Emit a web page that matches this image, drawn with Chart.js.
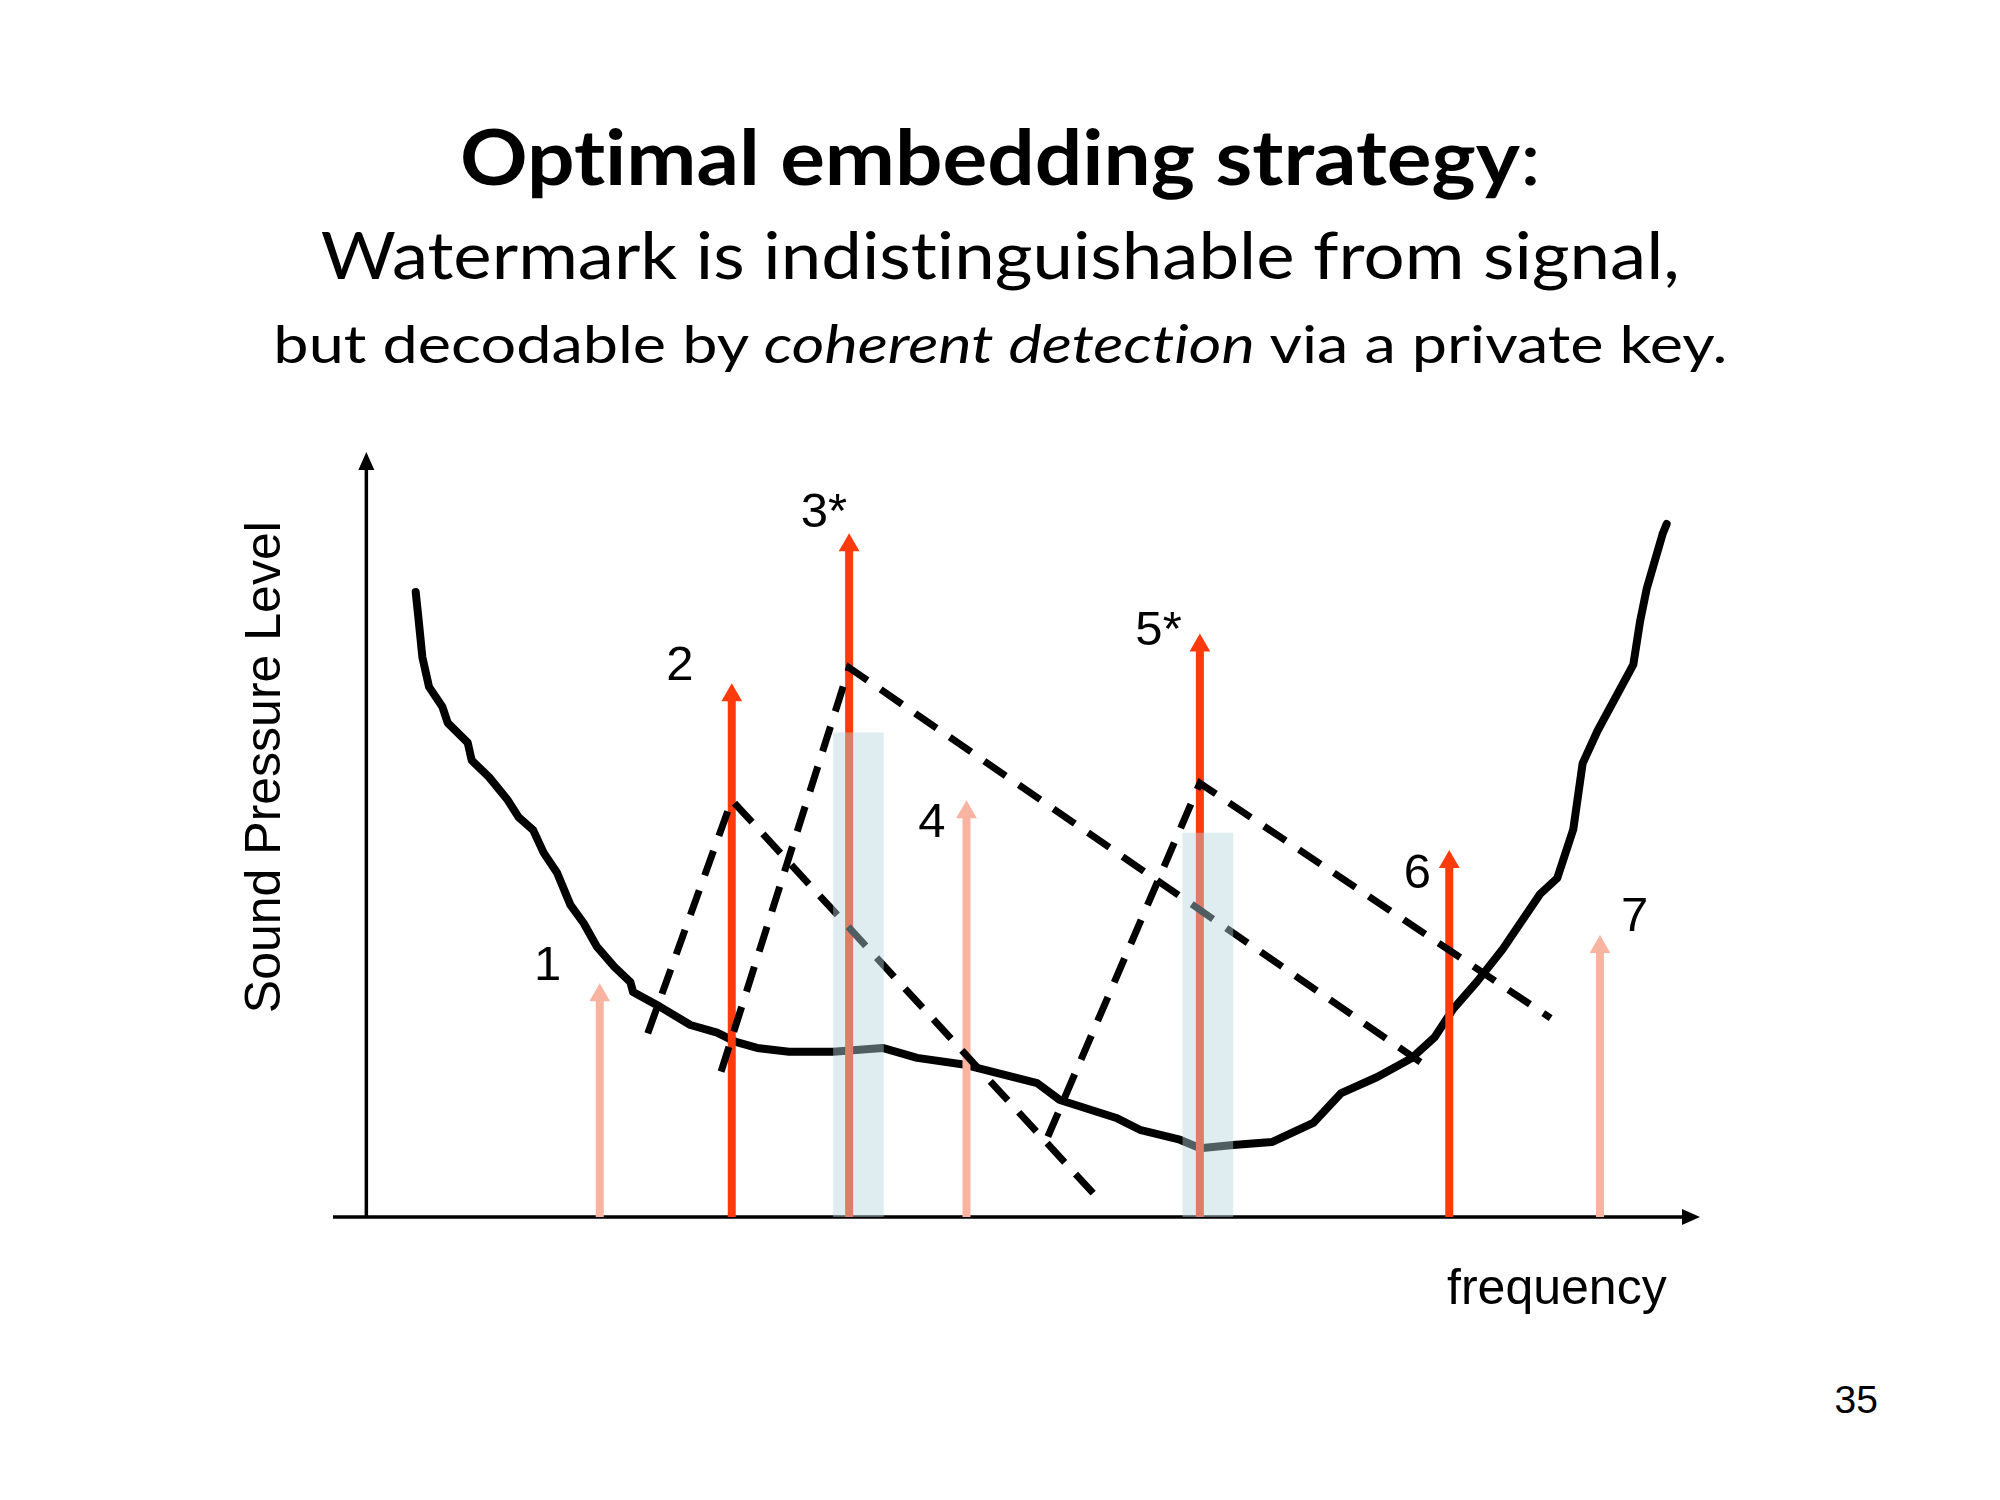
<!DOCTYPE html>
<html>
<head>
<meta charset="utf-8">
<title>Optimal embedding strategy</title>
<script src="https://cdn.jsdelivr.net/npm/chart.js@4.4.1/dist/chart.umd.min.js"></script>
<style>
  html, body { margin: 0; padding: 0; background: #fff; }
  body { width: 2000px; height: 1500px; position: relative; overflow: hidden; }
  #chart { position: absolute; left: 0; top: 0; }
  .hdr {
    position: absolute; left: 0; width: 2000px;
    text-align: center; line-height: 1; white-space: nowrap;
    font-family: Lato, "Open Sans", sans-serif; color: #000;
    font-variant-ligatures: none; font-feature-settings: "liga" 0, "clig" 0;
  }
  .hdr .fit { display: inline-block; transform-origin: 50% 50%; }
  #h1 { top: 118px; font-size: 76px; }
  #h2 { top: 222px; font-size: 65px; }
  #h3 { top: 317px; font-size: 52px; }
  #page {
    position: absolute; right: 122px; top: 1380px;
    font-family: "Liberation Sans", Arial, sans-serif; font-size: 39px; line-height: 1;
  }
</style>
</head>
<body>

<div class="hdr" id="h1"><span class="fit" data-w="1081"><b>Optimal embedding strategy</b>:</span></div>
<div class="hdr" id="h2"><span class="fit" data-w="1359">Watermark is indistinguishable from signal,</span></div>
<div class="hdr" id="h3"><span class="fit" data-w="1454">but decodable by <i>coherent detection</i> via a private key.</span></div>
<div id="page">35</div>

<canvas id="chart" width="2000" height="1500"></canvas>

<script>
/* ======================
   DATA
====================== */
// masking threshold curve (frequency 0..100, level 0..100)
const curveFreq = [3.7, 3.9, 4.2, 4.7, 5.7, 6.1, 7.6, 7.9, 9.2, 10.6, 11.4, 12.5, 13.3, 14.3, 15.3,
  16.3, 17.3, 18.6, 19.8, 20.0, 22.0, 24.3, 26.3, 27.7, 29.3, 31.7, 35.0, 38.7, 41.3, 44.9,
  50.3, 52.0, 56.3, 58.0, 61.0, 62.5, 65.0, 67.9, 71.0, 73.1, 75.8, 78.4, 80.1, 81.5, 83.3,
  85.2, 88.0, 89.3, 90.5, 91.2, 92.3, 95.0, 95.5, 96.0, 97.2, 97.5];
const curveLevel = [81.7, 78.4, 73.2, 69.3, 66.7, 64.6, 62.0, 59.7, 57.5, 54.5, 52.3, 50.6, 47.6, 45.0, 40.8,
  38.4, 35.3, 32.7, 30.7, 29.4, 27.5, 25.1, 24.1, 22.9, 22.1, 21.6, 21.6, 22.1, 20.8, 19.9,
  17.5, 15.3, 12.9, 11.4, 10.1, 9.0, 9.4, 9.8, 12.3, 16.2, 18.3, 20.8, 23.5, 27.2, 30.8,
  35.0, 42.2, 44.3, 50.7, 59.3, 63.5, 72.2, 77.8, 82.1, 89.3, 90.6];

// spectral components (arrows)
const arrowFreq  = [17.5, 27.4, 36.2, 45.0, 62.5, 81.2, 92.5];
const arrowLevel = [29.0, 68.2, 87.8, 52.9, 74.7, 46.4, 35.3];
const arrowStrong = [false, true, true, false, true, true, false];

// masking slopes (dashed): left foot, peak, right foot
const slopeFreq = [
  [21.1, 27.4, 54.5],
  [26.6, 36.2, 79.9],
  [51.1, 62.5, 88.8]
];
const slopeLevel = [
  [24.0, 54.5, 3.1],
  [19.0, 71.8, 19.2],
  [10.5, 56.7, 26.0]
];

// watermark bands
const bandFreq  = [36.9, 63.1];
const bandLevel = [63.3, 50.2];

// labels
const labelText  = ["1", "2", "3*", "4", "5*", "6", "7"];
const labelFreq  = [13.6, 23.5, 34.3, 42.4, 59.4, 78.8, 95.1];
const labelLevel = [32.8, 72.0, 91.9, 51.5, 76.5, 44.8, 39.2];

const yTitle = "Sound Pressure Level";
const xTitle = "frequency";

/* ======================
   COLOURS
====================== */
const RED = "#ff3a0d";
const LIGHT = "#f9b4a1";
const BAND = "rgba(182, 214, 220, 0.44)";
const LABEL_FONT = '49px "Liberation Sans", Arial, sans-serif';

/* ======================
   HEADER FIT
====================== */
document.querySelectorAll(".fit").forEach(el => {
  const w = el.getBoundingClientRect().width;
  el.style.transform = `scaleX(${(+el.dataset.w) / w})`;
});

/* ======================
   DATASETS
====================== */
const datasets = [];

datasets.push({
  type: "bar",
  data: bandFreq.map((f, i) => ({ x: f, y: bandLevel[i] })),
  backgroundColor: BAND,
  borderWidth: 0,
  barThickness: 50,
  order: 0
});

slopeFreq.forEach((fs, k) => {
  datasets.push({
    data: fs.map((f, i) => ({ x: f, y: slopeLevel[k][i] })),
    borderColor: "#000",
    borderWidth: 7,
    borderDash: [26, 16],
    borderCapStyle: "butt",
    pointRadius: 0,
    tension: 0,
    order: 1
  });
});

arrowFreq.forEach((f, i) => {
  const col = arrowStrong[i] ? RED : LIGHT;
  datasets.push({
    data: [{ x: f, y: 0 }, { x: f, y: arrowLevel[i] }],
    borderColor: col,
    borderWidth: 8,
    borderCapStyle: "butt",
    pointStyle: "triangle",
    pointRadius: [0, 12],
    pointBackgroundColor: col,
    pointBorderWidth: 0,
    order: 2
  });
});

datasets.push({
  data: curveFreq.map((f, i) => ({ x: f, y: curveLevel[i] })),
  borderColor: "#000",
  borderWidth: 8,
  borderJoinStyle: "round",
  borderCapStyle: "round",
  pointRadius: 0,
  tension: 0,
  order: 3
});

/* ======================
   PLUGINS
====================== */
const axesPlugin = {
  id: "arrowAxes",
  beforeDatasetsDraw(chart) {
    const { ctx, scales: { x, y } } = chart;
    const x0 = x.getPixelForValue(0);
    const y0 = y.getPixelForValue(0);
    const xL = x.getPixelForValue(x.min);
    const xR = x.getPixelForValue(x.max);
    const yT = y.getPixelForValue(y.max);

    ctx.save();
    ctx.strokeStyle = "#000";
    ctx.fillStyle = "#000";
    ctx.lineWidth = 3.5;

    ctx.beginPath();
    ctx.moveTo(xL, y0);
    ctx.lineTo(xR - 14, y0);
    ctx.moveTo(x0, y0);
    ctx.lineTo(x0, yT + 14);
    ctx.stroke();

    // arrow heads
    ctx.beginPath();
    ctx.moveTo(xR, y0);
    ctx.lineTo(xR - 18, y0 - 8);
    ctx.lineTo(xR - 18, y0 + 8);
    ctx.closePath();
    ctx.moveTo(x0, yT);
    ctx.lineTo(x0 - 8, yT + 18);
    ctx.lineTo(x0 + 8, yT + 18);
    ctx.closePath();
    ctx.fill();
    ctx.restore();
  }
};

const labelPlugin = {
  id: "labels",
  afterDatasetsDraw(chart) {
    const { ctx, chartArea, scales: { x, y } } = chart;
    ctx.save();
    ctx.fillStyle = "#000";
    ctx.font = LABEL_FONT;
    ctx.textAlign = "center";
    ctx.textBaseline = "middle";
    labelText.forEach((t, i) => {
      ctx.fillText(t, x.getPixelForValue(labelFreq[i]), y.getPixelForValue(labelLevel[i]));
    });

    ctx.font = '50px "Liberation Sans", Arial, sans-serif';
    ctx.textBaseline = "alphabetic";
    ctx.textAlign = "right";
    ctx.fillText(xTitle, x.getPixelForValue(97.5), chartArea.bottom + 87);

    ctx.translate(x.getPixelForValue(0) - 86, y.getPixelForValue(58.8));
    ctx.rotate(-Math.PI / 2);
    ctx.textAlign = "center";
    ctx.fillText(yTitle, 0, 0);
    ctx.restore();
  }
};

/* ======================
   CHART
====================== */
new Chart(document.getElementById("chart"), {
  type: "line",
  data: { datasets },
  options: {
    responsive: false,
    animation: false,
    devicePixelRatio: 1,
    layout: { padding: { left: 333, right: 300, top: 452, bottom: 283 } },
    scales: {
      x: { type: "linear", min: -2.5, max: 100, offset: false, display: false },
      y: { type: "linear", min: 0, max: 100, display: false }
    },
    plugins: {
      legend: { display: false },
      tooltip: { enabled: false }
    }
  },
  plugins: [axesPlugin, labelPlugin]
});
</script>
</body>
</html>
